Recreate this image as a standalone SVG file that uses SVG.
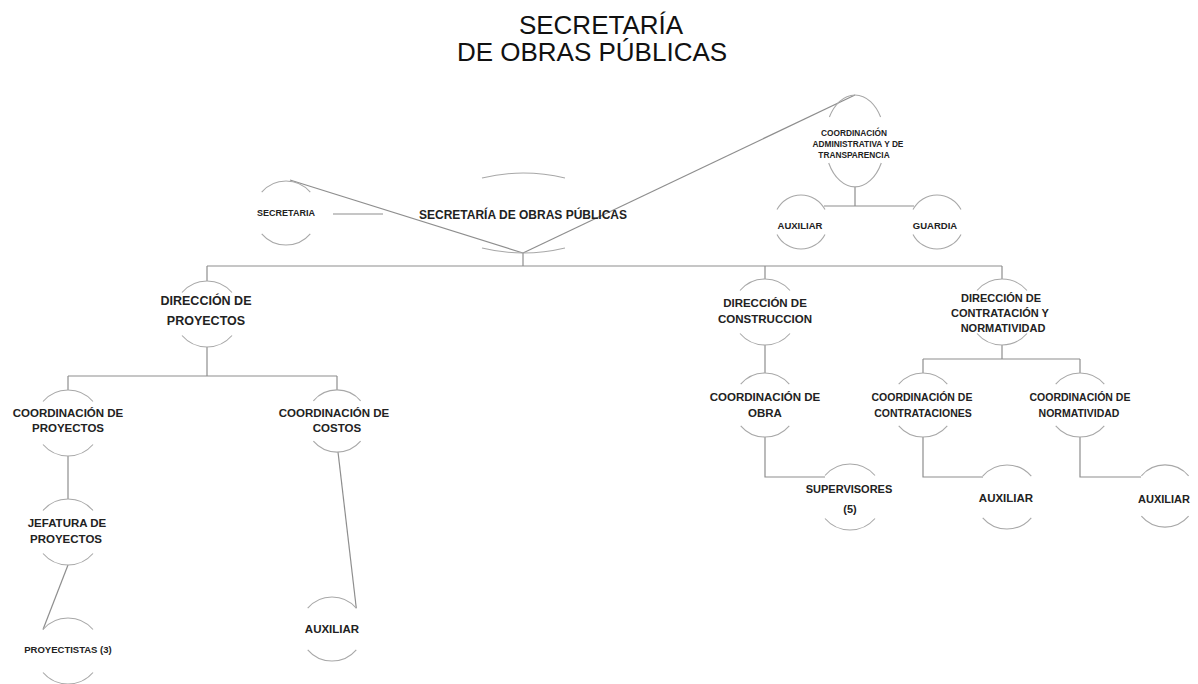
<svg xmlns="http://www.w3.org/2000/svg" width="1198" height="684" viewBox="0 0 1198 684">
<style>
.arc{fill:none;stroke:#a8a8a8;stroke-width:1.1}
.ln{fill:none;stroke:#8e8e8e;stroke-width:1.2}
.t{font-family:"Liberation Sans",Arial,sans-serif;font-weight:bold;fill:#222;text-anchor:middle}
.title{font-family:"Liberation Sans",Arial,sans-serif;font-size:26px;fill:#111;text-anchor:middle}
</style>
<rect width="1198" height="684" fill="#fff"/>
<g id="title">
<text class="title" x="601" y="34">SECRETARÍA</text>
<text class="title" x="592" y="61">DE OBRAS PÚBLICAS</text>
</g>
<g id="connectors">
<line class="ln" x1="290" y1="180" x2="523" y2="253"/>
<line class="ln" x1="523" y1="253" x2="855" y2="95"/>
<line class="ln" x1="333" y1="214" x2="383" y2="214"/>
<line class="ln" x1="523" y1="253" x2="523" y2="266"/>
<line class="ln" x1="207" y1="266" x2="1002" y2="266"/>
<line class="ln" x1="207" y1="266" x2="207" y2="281"/>
<line class="ln" x1="765" y1="266" x2="765" y2="279"/>
<line class="ln" x1="1002" y1="266" x2="1002" y2="279"/>
<line class="ln" x1="855" y1="187" x2="855" y2="206"/>
<line class="ln" x1="824" y1="206" x2="914" y2="206"/>
<line class="ln" x1="207" y1="347" x2="207" y2="376"/>
<line class="ln" x1="68" y1="376" x2="337" y2="376"/>
<line class="ln" x1="68" y1="376" x2="68" y2="390"/>
<line class="ln" x1="337" y1="376" x2="337" y2="390"/>
<line class="ln" x1="68" y1="456" x2="68" y2="499"/>
<line class="ln" x1="68" y1="565" x2="43" y2="629.5"/>
<line class="ln" x1="338" y1="452" x2="356.3" y2="608.2"/>
<line class="ln" x1="765" y1="345" x2="765" y2="373"/>
<polyline class="ln" points="765,437 765,477 825,477"/>
<line class="ln" x1="1002" y1="345" x2="1002" y2="359"/>
<line class="ln" x1="923" y1="359" x2="1080" y2="359"/>
<line class="ln" x1="923" y1="359" x2="923" y2="373"/>
<line class="ln" x1="1080" y1="359" x2="1080" y2="373"/>
<polyline class="ln" points="923,437 923,477 983,477"/>
<polyline class="ln" points="1080,437 1080,477 1141,477"/>
</g>
<g id="n-sop">
<path class="arc" d="M482 178 Q523 168 565 178"/>
<path class="arc" d="M482 248 Q523 258 565 248"/>
<text class="t" x="523" y="219" font-size="12">SECRETARÍA DE OBRAS PÚBLICAS</text>
</g>
<g id="n-secretaria">
<path class="arc" d="M261.7 192.2 A32 32 0 0 1 310.3 192.2"/>
<path class="arc" d="M261.7 233.8 A32 32 0 0 0 310.3 233.8"/>
<text class="t" x="286" y="216" font-size="9">SECRETARIA</text>
</g>
<g id="n-coord-admin">
<path class="arc" d="M829.4 117 A30 46 0 0 1 880.6 117"/>
<path class="arc" d="M828.7 163 A30 46 0 0 0 881.3 163"/>
<text class="t" x="854" y="136" font-size="8.3">COORDINACIÓN</text>
<text class="t" x="858" y="147" font-size="8.3">ADMINISTRATIVA Y DE</text>
<text class="t" x="854" y="158" font-size="8.3">TRANSPARENCIA</text>
</g>
<g id="n-auxiliar-admin">
<path class="arc" d="M777 209.6 A27 27 0 0 1 825 209.6"/>
<path class="arc" d="M777 234.4 A27 27 0 0 0 825 234.4"/>
<text class="t" x="800" y="229" font-size="9.5">AUXILIAR</text>
</g>
<g id="n-guardia">
<path class="arc" d="M913 209.6 A27 27 0 0 1 961 209.6"/>
<path class="arc" d="M913 234.4 A27 27 0 0 0 961 234.4"/>
<text class="t" x="935" y="229" font-size="9.5">GUARDIA</text>
</g>
<g id="n-dir-proyectos">
<path class="arc" d="M182 292.5 A33 33 0 0 1 232 292.5"/>
<path class="arc" d="M182 335.5 A33 33 0 0 0 232 335.5"/>
<text class="t" x="206" y="305" font-size="12.5">DIRECCIÓN DE</text>
<text class="t" x="206" y="325" font-size="12.5">PROYECTOS</text>
</g>
<g id="n-coord-proyectos">
<path class="arc" d="M43 401.5 A33 33 0 0 1 93 401.5"/>
<path class="arc" d="M43 444.5 A33 33 0 0 0 93 444.5"/>
<text class="t" x="68" y="417" font-size="11.5">COORDINACIÓN DE</text>
<text class="t" x="68" y="432" font-size="11.5">PROYECTOS</text>
</g>
<g id="n-coord-costos">
<path class="arc" d="M313.4 400.8 A31 31 0 0 1 360.6 400.8"/>
<path class="arc" d="M313.4 441.2 A31 31 0 0 0 360.6 441.2"/>
<text class="t" x="334" y="417" font-size="11.5">COORDINACIÓN DE</text>
<text class="t" x="337" y="432" font-size="11.5">COSTOS</text>
</g>
<g id="n-jefatura">
<path class="arc" d="M43 510.5 A33 33 0 0 1 93 510.5"/>
<path class="arc" d="M43 553.5 A33 33 0 0 0 93 553.5"/>
<text class="t" x="67" y="527" font-size="11.5">JEFATURA DE</text>
<text class="t" x="66" y="543" font-size="11.5">PROYECTOS</text>
</g>
<g id="n-proyectistas">
<path class="arc" d="M43 629.5 A33 33 0 0 1 93 629.5"/>
<path class="arc" d="M43 672.5 A33 33 0 0 0 93 672.5"/>
<text class="t" x="68" y="653" font-size="9.5">PROYECTISTAS (3)</text>
</g>
<g id="n-auxiliar-costos">
<path class="arc" d="M307.7 608.2 A32 32 0 0 1 356.3 608.2"/>
<path class="arc" d="M307.7 649.8 A32 32 0 0 0 356.3 649.8"/>
<text class="t" x="332" y="633" font-size="11.5">AUXILIAR</text>
</g>
<g id="n-dir-construccion">
<path class="arc" d="M740 290.5 A33 33 0 0 1 790 290.5"/>
<path class="arc" d="M740 333.5 A33 33 0 0 0 790 333.5"/>
<text class="t" x="765" y="307" font-size="11.5">DIRECCIÓN DE</text>
<text class="t" x="765" y="323" font-size="11.5">CONSTRUCCION</text>
</g>
<g id="n-coord-obra">
<path class="arc" d="M740.7 384.2 A32 32 0 0 1 789.3 384.2"/>
<path class="arc" d="M740.7 425.8 A32 32 0 0 0 789.3 425.8"/>
<text class="t" x="765" y="401" font-size="11.5">COORDINACIÓN DE</text>
<text class="t" x="765" y="417" font-size="11.5">OBRA</text>
</g>
<g id="n-supervisores">
<path class="arc" d="M825 475.5 A33 33 0 0 1 875 475.5"/>
<path class="arc" d="M825 518.5 A33 33 0 0 0 875 518.5"/>
<text class="t" x="849" y="493" font-size="11">SUPERVISORES</text>
<text class="t" x="850" y="513" font-size="11">(5)</text>
</g>
<g id="n-dir-contratacion">
<path class="arc" d="M977 290.5 A33 33 0 0 1 1027 290.5"/>
<path class="arc" d="M977 333.5 A33 33 0 0 0 1027 333.5"/>
<text class="t" x="1001" y="302" font-size="11">DIRECCIÓN DE</text>
<text class="t" x="1000" y="317" font-size="11">CONTRATACIÓN Y</text>
<text class="t" x="1003" y="332" font-size="11">NORMATIVIDAD</text>
</g>
<g id="n-coord-contrataciones">
<path class="arc" d="M898.7 384.2 A32 32 0 0 1 947.3 384.2"/>
<path class="arc" d="M898.7 425.8 A32 32 0 0 0 947.3 425.8"/>
<text class="t" x="922" y="401" font-size="10.5">COORDINACIÓN DE</text>
<text class="t" x="923" y="417" font-size="10.5">CONTRATACIONES</text>
</g>
<g id="n-auxiliar-contrataciones">
<path class="arc" d="M982.7 476.2 A32 32 0 0 1 1031.3 476.2"/>
<path class="arc" d="M982.7 517.8 A32 32 0 0 0 1031.3 517.8"/>
<text class="t" x="1006" y="502" font-size="11.5">AUXILIAR</text>
</g>
<g id="n-coord-normatividad">
<path class="arc" d="M1055.7 384.2 A32 32 0 0 1 1104.3 384.2"/>
<path class="arc" d="M1055.7 425.8 A32 32 0 0 0 1104.3 425.8"/>
<text class="t" x="1080" y="401" font-size="10.5">COORDINACIÓN DE</text>
<text class="t" x="1079" y="417" font-size="10.5">NORMATIVIDAD</text>
</g>
<g id="n-auxiliar-normatividad">
<path class="arc" d="M1141.4 475.8 A31 31 0 0 1 1188.6 475.8"/>
<path class="arc" d="M1141.4 516.2 A31 31 0 0 0 1188.6 516.2"/>
<text class="t" x="1164" y="503" font-size="11">AUXILIAR</text>
</g>
</svg>
